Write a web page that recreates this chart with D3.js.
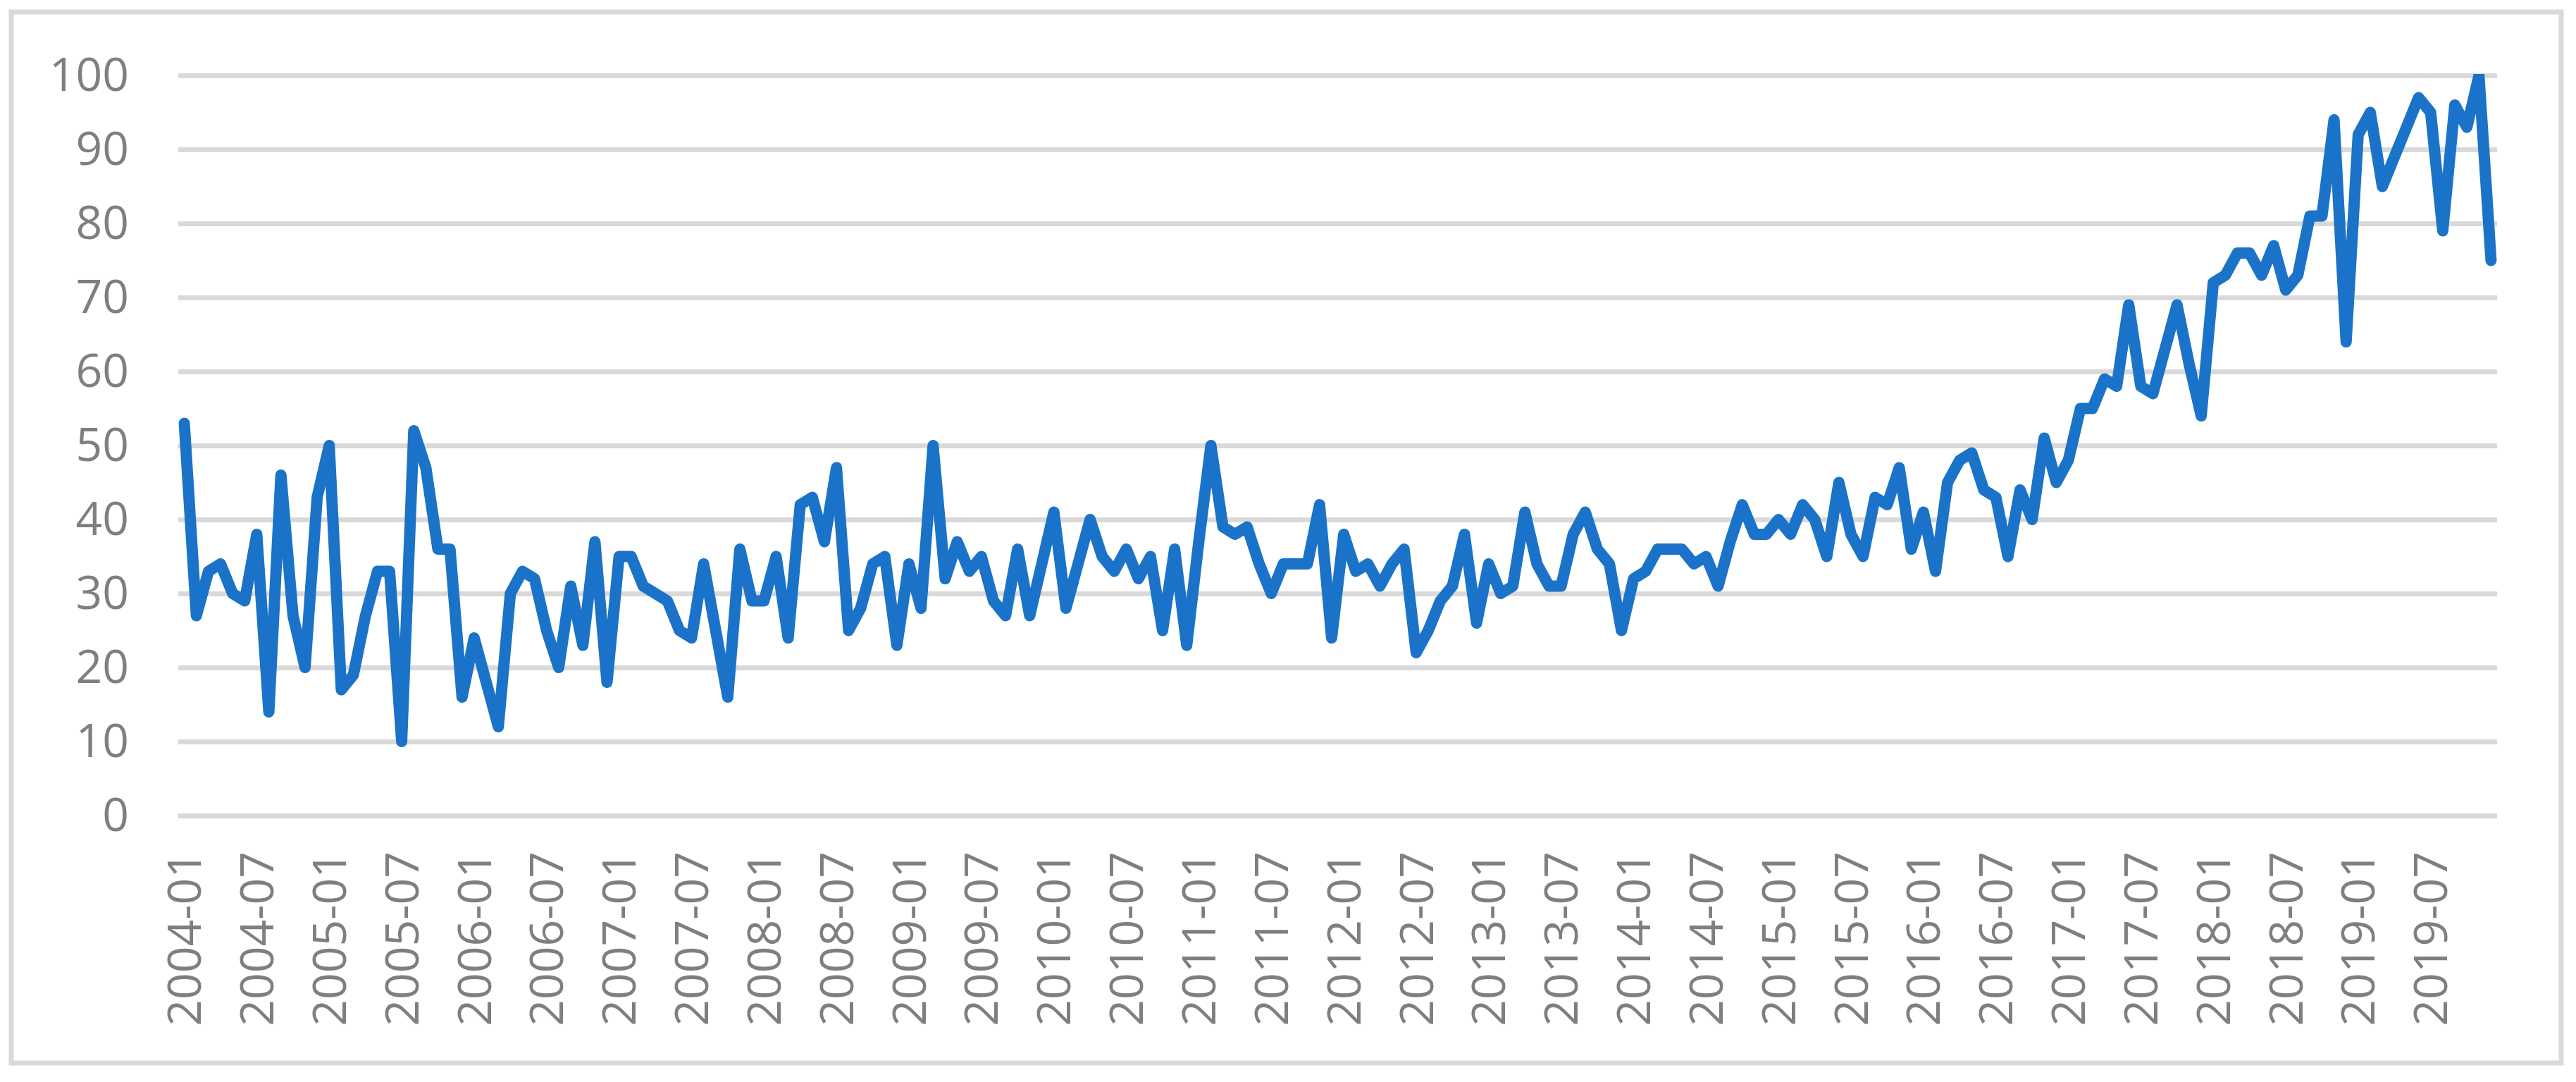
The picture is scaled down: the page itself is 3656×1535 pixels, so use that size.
<!DOCTYPE html>
<html>
<head>
<meta charset="utf-8">
<script src="https://cdn.jsdelivr.net/npm/d3@7"></script>
<style>
  html, body { margin: 0; padding: 0; background: #fff; }
</style>
</head>
<body>
<div id="container"></div>
<script>
// monthly categories 2004-01 .. 2019-12
const years = d3.range(2004, 2020);
const months = ['01', '02', '03', '04', '05', '06', '07', '08', '09', '10', '11', '12'];
const categories = [];
years.forEach(y => months.forEach(m => categories.push(`${y}-${m}`)));

// series values, one row per year
const values = [
    53, 27, 33, 34, 30, 29, 38, 14, 46, 27, 20, 43,
    50, 17, 19, 27, 33, 33, 10, 52, 47, 36, 36, 16,
    24, 18, 12, 30, 33, 32, 25, 20, 31, 23, 37, 18,
    35, 35, 31, 30, 29, 25, 24, 34, 25, 16, 36, 29,
    29, 35, 24, 42, 43, 37, 47, 25, 28, 34, 35, 23,
    34, 28, 50, 32, 37, 33, 35, 29, 27, 36, 27, 34,
    41, 28, 34, 40, 35, 33, 36, 32, 35, 25, 36, 23,
    37, 50, 39, 38, 39, 34, 30, 34, 34, 34, 42, 24,
    38, 33, 34, 31, 34, 36, 22, 25, 29, 31, 38, 26,
    34, 30, 31, 41, 34, 31, 31, 38, 41, 36, 34, 25,
    32, 33, 36, 36, 36, 34, 35, 31, 37, 42, 38, 38,
    40, 38, 42, 40, 35, 45, 38, 35, 43, 42, 47, 36,
    41, 33, 45, 48, 49, 44, 43, 35, 44, 40, 51, 45,
    48, 55, 55, 59, 58, 69, 58, 57, 63, 69, 61, 54,
    72, 73, 76, 76, 73, 77, 71, 73, 81, 81, 94, 64,
    92, 95, 85, 89, 93, 97, 95, 79, 96, 93, 100, 75
];

// tick labels
const yTicks = [0, 10, 20, 30, 40, 50, 60, 70, 80, 90, 100];
const xTickLabels = categories.filter((c, i) => i % 6 === 0);

// svg chart dimensions
const w = 3656;
const h = 1535;
const plotLeft = 253;
const plotRight = 3544;
const plotTop = 107;
const plotBottom = 1157;

// create svg
const svg = d3.select('#container')
    .append('svg')
    .attr('width', w)
    .attr('height', h)
    .style('display', 'block');

// outer border
svg.append('rect')
    .attr('x', 16)
    .attr('y', 17)
    .attr('width', 3619)
    .attr('height', 1491)
    .attr('fill', '#fff')
    .attr('stroke', '#d9d9d9')
    .attr('stroke-width', 7);

// create scales
const xScale = d3.scalePoint()
    .domain(categories)
    .range([plotLeft, plotRight])
    .padding(0.5);

const yScale = d3.scaleLinear()
    .domain([0, 100])
    .range([plotBottom, plotTop]);

// horizontal gridlines + y labels
const yAxis = d3.axisLeft(yScale)
    .tickValues(yTicks)
    .tickSize(-(plotRight - plotLeft))
    .tickPadding(70);

svg.append('g')
    .attr('id', 'y-axis')
    .attr('transform', `translate(${plotLeft}, 0)`)
    .call(yAxis)
    .call(g => g.select('.domain').remove())
    .call(g => g.selectAll('.tick line')
        .attr('stroke', '#d9d9d9')
        .attr('stroke-width', 7))
    .call(g => g.selectAll('.tick text')
        .attr('fill', '#7f7f7f')
        .attr('font-family', '"Open Sans", sans-serif')
        .attr('font-size', 66));

// x labels, every 6 months, rotated
const xAxis = d3.axisBottom(xScale)
    .tickValues(xTickLabels)
    .tickSize(0)
    .tickPadding(0);

svg.append('g')
    .attr('id', 'x-axis')
    .attr('transform', `translate(0, ${plotBottom})`)
    .call(xAxis)
    .call(g => g.select('.domain').remove())
    .call(g => g.selectAll('.tick text')
        .attr('fill', '#7f7f7f')
        .attr('font-family', '"Open Sans", sans-serif')
        .attr('font-size', 66)
        .attr('text-anchor', 'end')
        .attr('transform', 'translate(0, 51) rotate(-90)')
        .attr('x', 0)
        .attr('y', 0)
        .attr('dy', '0.35em'));

// clip the line to the plot area
svg.append('clipPath')
    .attr('id', 'plot-clip')
    .append('rect')
    .attr('x', 0)
    .attr('y', plotTop - 2)
    .attr('width', w)
    .attr('height', h);

// the series line
const line = d3.line()
    .x((d, i) => xScale(categories[i]))
    .y(d => yScale(d));

svg.append('path')
    .datum(values)
    .attr('clip-path', 'url(#plot-clip)')
    .attr('fill', 'none')
    .attr('stroke', '#1a73c8')
    .attr('stroke-width', 16)
    .attr('stroke-linejoin', 'round')
    .attr('stroke-linecap', 'round')
    .attr('d', line);
</script>
</body>
</html>
